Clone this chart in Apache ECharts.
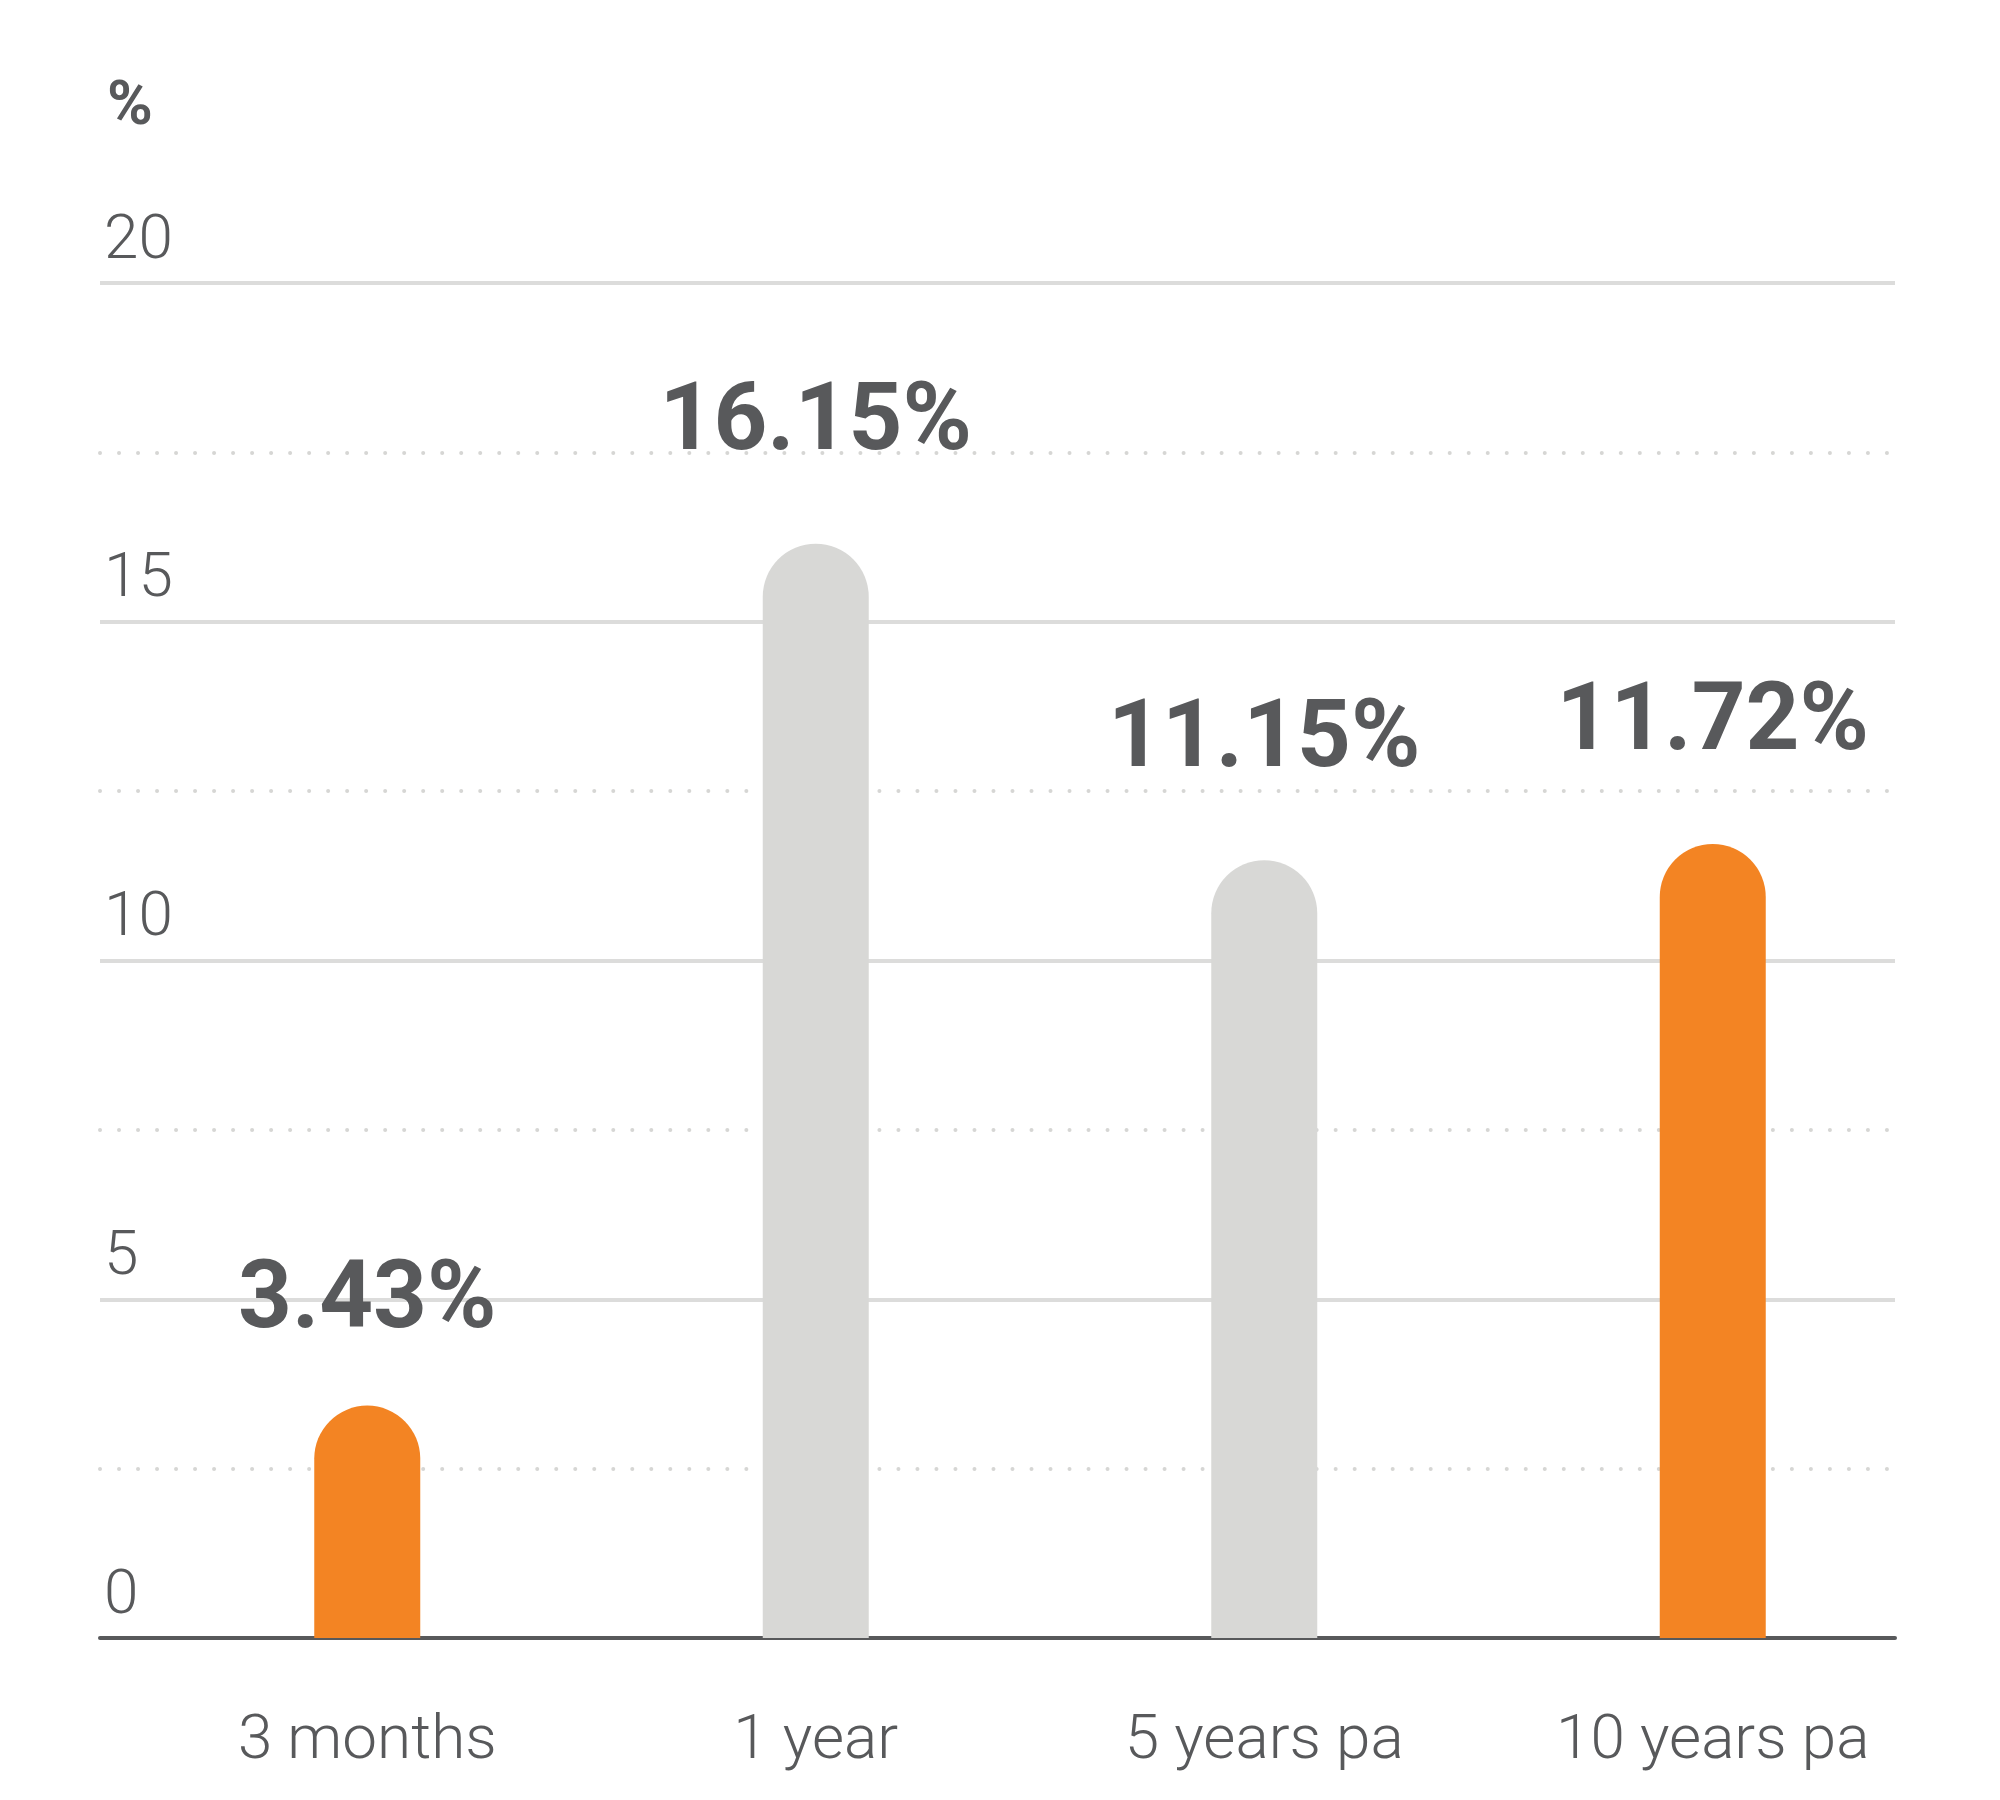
<!DOCTYPE html>
<html>
<head>
<meta charset="utf-8">
<script src="https://cdn.jsdelivr.net/npm/echarts@6/dist/echarts.min.js"></script>
<style>
  html, body { margin: 0; padding: 0; background: #ffffff; }
  #chart { width: 2000px; height: 1800px; }
</style>
</head>
<body>
<div id="chart"></div>
<script>
// ---- data ----
const categories = ['3 months', '1 year', '5 years pa', '10 years pa'];
const barValues = [3.43, 16.15, 11.48, 11.72];
const valueLabels = ['3.43%', '16.15%', '11.15%', '11.72%'];
const highlighted = [true, false, false, true];
const yTicks = [0, 5, 10, 15, 20];
const unitLabel = '%';

// ---- styles ----
const TEXT = '#58595b';
const ORANGE = '#f38423';
const GREY = '#d8d8d6';
const GRID_TOP = 283, GRID_BOTTOM = 162;

const chart = echarts.init(document.getElementById('chart'), null, { renderer: 'canvas' });

const seriesData = barValues.map((v, i) => ({
  value: v,
  itemStyle: { color: highlighted[i] ? ORANGE : GREY },
  label: { distance: i === 0 ? 55 : 71 }
}));

chart.setOption({
  backgroundColor: '#ffffff',
  animation: false,
  title: {
    text: unitLabel,
    left: 102,
    top: 72,
    textStyle: { fontFamily: 'Roboto, sans-serif', fontWeight: 'bold', fontSize: 62, color: TEXT }
  },
  grid: [
    { left: 100, right: 105, top: GRID_TOP, bottom: GRID_BOTTOM },
    { left: 143, right: 63, top: GRID_TOP, bottom: GRID_BOTTOM }
  ],
  xAxis: [
    {
      gridIndex: 0, type: 'value', min: 0, max: 1,
      axisLine: { show: true, onZero: false, lineStyle: { color: TEXT, width: 4, cap: 'round' } },
      axisTick: { show: false }, axisLabel: { show: false }, splitLine: { show: false }
    },
    {
      gridIndex: 1, type: 'category', data: categories,
      axisLine: { show: false }, axisTick: { show: false },
      axisLabel: {
        margin: 73, fontFamily: 'Roboto, sans-serif', fontWeight: 300, fontSize: 62, color: TEXT
      }
    }
  ],
  yAxis: [
    {
      gridIndex: 0, type: 'value', min: yTicks[0], max: yTicks[yTicks.length - 1], interval: 5,
      axisLine: { show: false }, axisTick: { show: false },
      axisLabel: {
        inside: true, margin: 4, align: 'left', verticalAlign: 'bottom',
        padding: [0, 0, 10, 0],
        fontFamily: 'Roboto, sans-serif', fontWeight: 300, fontSize: 62, color: TEXT
      },
      splitLine: { show: true, lineStyle: { color: '#dcdcdb', width: 4 } },
      minorTick: { show: false, splitNumber: 2 },
      minorSplitLine: { show: true, lineStyle: { color: '#d6d6d4', width: 4, type: [0.01, 19], cap: 'round' } }
    },
    {
      gridIndex: 1, type: 'value', min: 0, max: 20, interval: 5, show: false,
      splitLine: { show: false }
    }
  ],
  series: [
    {
      type: 'bar',
      xAxisIndex: 1, yAxisIndex: 1,
      barWidth: 106,
      data: seriesData,
      itemStyle: { borderRadius: [53, 53, 0, 0] },
      label: {
        show: true, position: 'top',
        formatter: p => valueLabels[p.dataIndex],
        fontFamily: 'Roboto, sans-serif',
        fontWeight: 'bold', fontSize: 94, color: TEXT
      },
      z: 3
    }
  ]
});
</script>
</body>
</html>
